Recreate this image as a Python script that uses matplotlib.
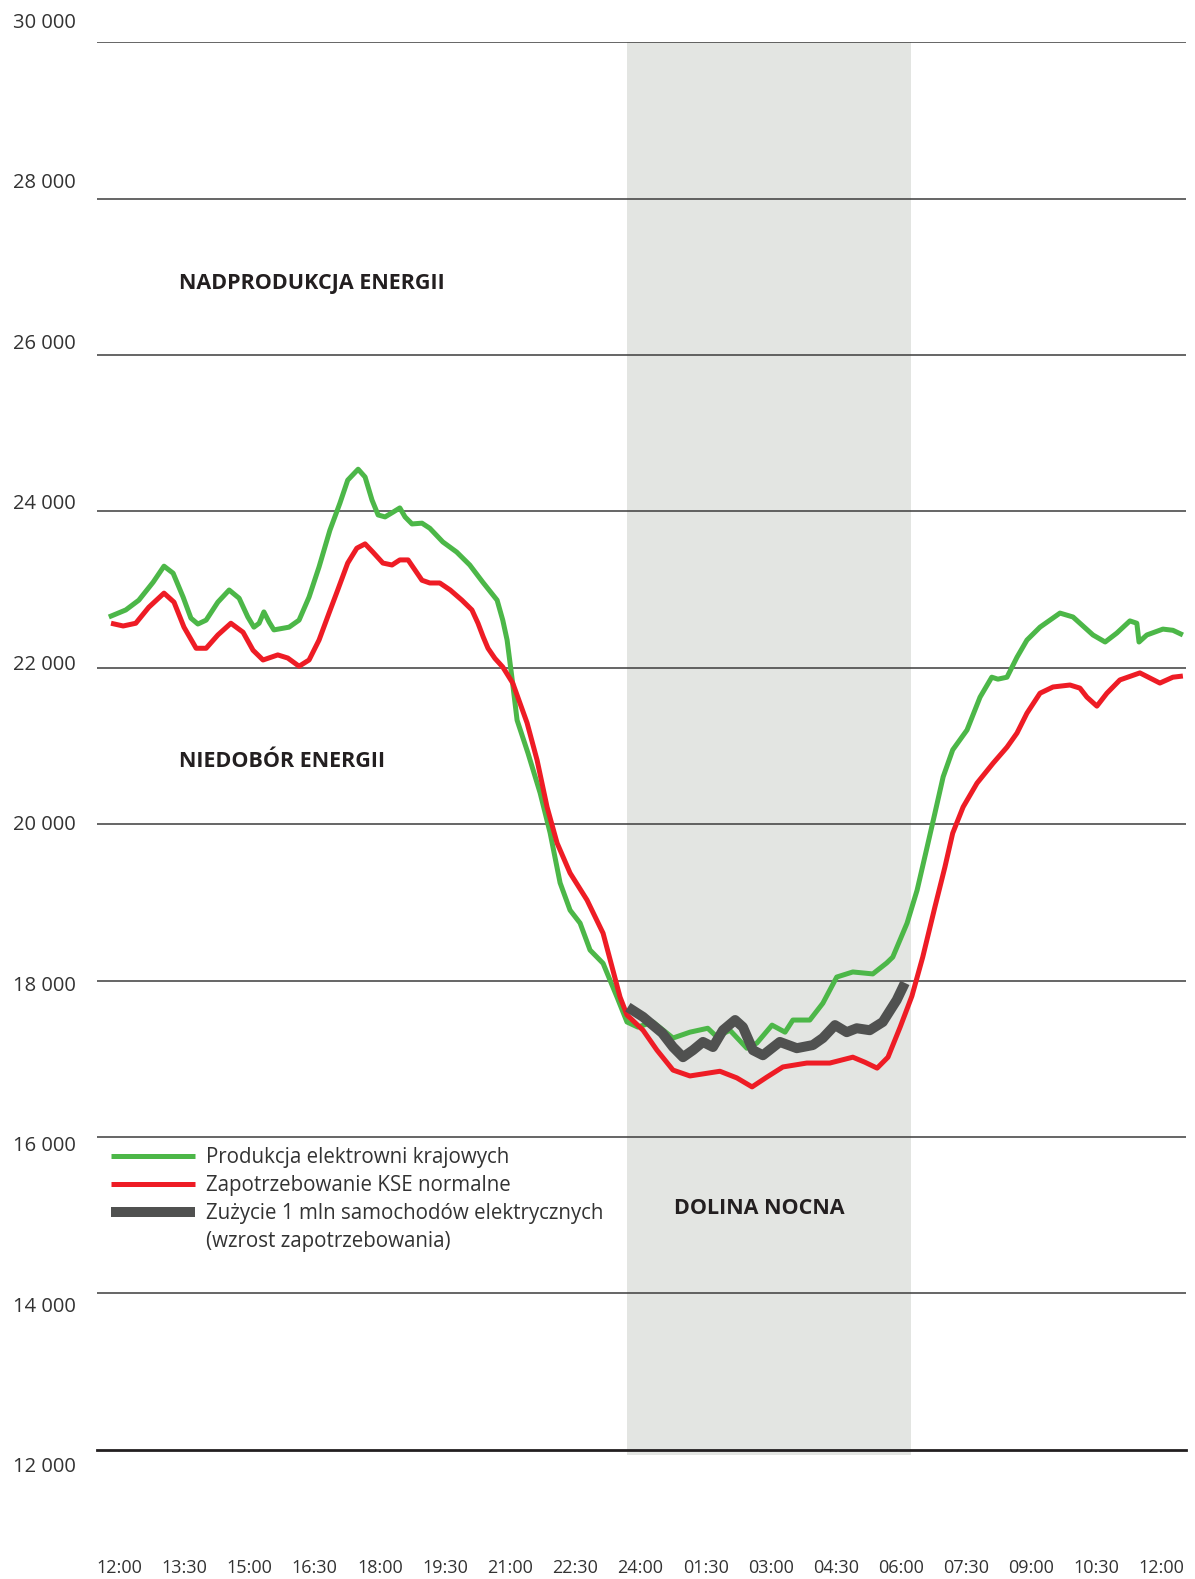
import matplotlib
matplotlib.use('Agg')
import matplotlib.pyplot as plt
from matplotlib.lines import Line2D

plt.rcParams['font.family'] = ['Open Sans', 'DejaVu Sans']

# hours counted from 12:00 (day 1) to 12:00 (day 2)
prod_h = [-0.24, 0.15, 0.45, 0.78, 1.03, 1.24, 1.47, 1.65, 1.81, 2.0, 2.27, 2.53, 2.76,
          2.96, 3.1, 3.22, 3.33, 3.45, 3.56, 3.91, 4.14, 4.37, 4.6, 4.85, 5.08, 5.26,
          5.5, 5.66, 5.82, 5.96, 6.12, 6.3, 6.46, 6.58, 6.74, 6.97, 7.15, 7.45, 7.77,
          8.07, 8.37, 8.7, 8.83, 8.93, 9.04, 9.16, 9.41, 9.69, 9.92, 10.15, 10.38,
          10.61, 10.84, 11.14, 11.46, 11.69, 11.94, 12.29, 12.75, 13.14, 13.55, 13.76,
          14.06, 14.45, 14.68, 15.03, 15.33, 15.51, 15.9, 16.2, 16.52, 16.89, 17.35,
          17.67, 17.81, 18.14, 18.37, 18.6, 18.78, 18.97, 19.19, 19.52, 19.82, 20.09,
          20.23, 20.44, 20.67, 20.9, 21.2, 21.66, 21.96, 22.12, 22.42, 22.7, 22.97,
          23.27, 23.43, 23.48, 23.66, 24.03, 24.26, 24.49]
prod_v = [22650, 22740, 22865, 23095, 23300, 23210, 22905, 22635, 22560, 22610, 22840,
          22995, 22890, 22650, 22520, 22570, 22715, 22585, 22485, 22520, 22610, 22905,
          23290, 23760, 24105, 24400, 24540, 24440, 24145, 23955, 23930, 23990, 24045,
          23930, 23840, 23850, 23785, 23610, 23480, 23315, 23095, 22865, 22610, 22355,
          21880, 21330, 20910, 20400, 19890, 19250, 18900, 18735, 18390, 18220, 17790,
          17470, 17405, 17470, 17265, 17340, 17390, 17280, 17365, 17135, 17200, 17430,
          17340, 17495, 17495, 17710, 18045, 18110, 18085, 18225, 18300, 18735, 19155,
          19705, 20140, 20605, 20950, 21205, 21625, 21880, 21855, 21880, 22135, 22355,
          22520, 22700, 22650, 22570, 22420, 22330, 22445, 22600, 22570, 22330, 22420,
          22495, 22480, 22420]

dem_h = [-0.19, 0.09, 0.38, 0.68, 1.03, 1.26, 1.49, 1.77, 2.0, 2.27, 2.57, 2.85, 3.08,
         3.31, 3.65, 3.88, 4.14, 4.37, 4.6, 4.83, 5.03, 5.26, 5.47, 5.66, 5.84, 6.07,
         6.28, 6.46, 6.65, 6.81, 6.97, 7.15, 7.38, 7.62, 7.89, 8.12, 8.26, 8.38, 8.49,
         8.65, 8.83, 9.06, 9.39, 9.62, 9.85, 10.08, 10.38, 10.77, 11.14, 11.53, 11.69,
         12.06, 12.38, 12.75, 13.14, 13.83, 14.22, 14.57, 14.91, 15.28, 15.83, 16.36,
         16.89, 17.17, 17.45, 17.7, 17.98, 18.25, 18.5, 18.78, 19.01, 19.19, 19.43,
         19.75, 20.12, 20.44, 20.67, 20.9, 21.2, 21.5, 21.89, 22.12, 22.28, 22.51,
         22.74, 23.04, 23.5, 23.96, 24.26, 24.49]
dem_v = [22570, 22535, 22570, 22775, 22955, 22840, 22520, 22250, 22250, 22420, 22570,
         22455, 22225, 22100, 22165, 22125, 22020, 22100, 22355, 22700, 22995, 23340,
         23530, 23585, 23480, 23340, 23315, 23380, 23380, 23250, 23120, 23085, 23085,
         22995, 22865, 22740, 22570, 22395, 22250, 22120, 22010, 21805, 21295, 20820,
         20220, 19760, 19375, 19030, 18605, 17790, 17560, 17365, 17110, 16855, 16780,
         16840, 16755, 16640, 16765, 16895, 16945, 16945, 17020, 16955, 16880, 17020,
         17405, 17800, 18300, 18940, 19450, 19885, 20220, 20525, 20780, 20985, 21165,
         21420, 21675, 21755, 21780, 21740, 21625, 21510, 21675, 21845, 21935, 21805,
         21880, 21895]

ev_h = [11.71, 12.06, 12.5, 12.75, 12.98, 13.21, 13.44, 13.67, 13.9, 14.18, 14.36,
        14.59, 14.82, 15.21, 15.6, 15.97, 16.2, 16.48, 16.75, 16.98, 17.28, 17.58,
        17.9, 18.09]
ev_v = [17660, 17535, 17330, 17150, 17020, 17110, 17215, 17150, 17365, 17495, 17405,
        17110, 17045, 17215, 17135, 17175, 17265, 17430, 17340, 17390, 17365, 17470,
        17750, 17970]

x_ticks = [i * 1.5 for i in range(17)]
x_labels = ['12:00', '13:30', '15:00', '16:30', '18:00', '19:30', '21:00', '22:30',
            '24:00', '01:30', '03:00', '04:30', '06:00', '07:30', '09:00', '10:30', '12:00']
y_ticks = [12000, 14000, 16000, 18000, 20000, 22000, 24000, 26000, 28000, 30000]
y_labels = ['12 000', '14 000', '16 000', '18 000', '20 000', '22 000', '24 000',
            '26 000', '28 000', '30 000']
night = (11.69, 18.23)

fig = plt.figure(figsize=(11.95, 15.79), dpi=100)
ax = fig.add_axes([0.0808, 0.0819, 0.9116, 0.8913])
ax.set_xlim(-0.523, 24.56)
ax.set_ylim(12000, 30000)

ax.axvspan(night[0], night[1], ymin=-0.004, ymax=1, color='#e3e5e2', lw=0, zorder=0, clip_on=False)
for v in y_ticks[1:]:
    ax.axhline(v, color='#3c3c3c', lw=1.1, zorder=1)
ax.axhline(12000, color='#231f20', lw=2.0, zorder=1, clip_on=False)

l1, = ax.plot(prod_h, prod_v, color='#4cb748', lw=3.6, solid_joinstyle='round',
              solid_capstyle='butt', zorder=3, clip_on=False)
l2, = ax.plot(dem_h, dem_v, color='#ee1c25', lw=3.6, solid_joinstyle='round',
              solid_capstyle='butt', zorder=3, clip_on=False)
l3, = ax.plot(ev_h, ev_v, color='#505150', lw=7.2, solid_joinstyle='round',
              solid_capstyle='butt', zorder=4)
blank = Line2D([], [], linestyle='none')

for s in ax.spines.values():
    s.set_visible(False)
ax.set_yticks([])
ax.set_xticks(x_ticks)
ax.set_xticklabels(x_labels, fontsize=13, color='#333333')
ax.tick_params(axis='x', length=0, pad=79)

# y labels sit on their own slightly taller scale
ax2 = fig.add_axes([0.0808, 0.0724, 0.001, 0.9149])
ax2.set_ylim(12000, 30000)
ax2.set_yticks(y_ticks)
ax2.set_yticklabels(y_labels, fontsize=14.5, color='#333333')
ax2.tick_params(axis='y', length=0, pad=14.8)
ax2.set_xticks([])
ax2.patch.set_visible(False)
for s in ax2.spines.values():
    s.set_visible(False)

ax.text(1.375, 26920, 'NADPRODUKCJA ENERGII', fontsize=15.5, fontweight='bold',
        color='#231f20', ha='left', va='center')
ax.text(1.375, 20800, 'NIEDOBÓR ENERGII', fontsize=15.5, fontweight='bold',
        color='#231f20', ha='left', va='center')
ax.text(14.74, 15090, 'DOLINA NOCNA', fontsize=15.5, fontweight='bold',
        color='#231f20', ha='center', va='center')

leg = ax.legend([l1, l2, l3, blank],
                ['Produkcja elektrowni krajowych', 'Zapotrzebowanie KSE normalne',
                 'Zużycie 1 mln samochodów elektrycznych', '(wzrost zapotrzebowania)'],
                loc='upper left', bbox_to_anchor=(0.0929, 0.2736),
                bbox_transform=fig.transFigure, frameon=False, fontsize=14.8,
                handlelength=4.1, handletextpad=0.53, labelspacing=0.34,
                borderpad=0, borderaxespad=0)
for t in leg.get_texts():
    t.set_color('#333333')

fig.savefig('out.png', dpi=100)
